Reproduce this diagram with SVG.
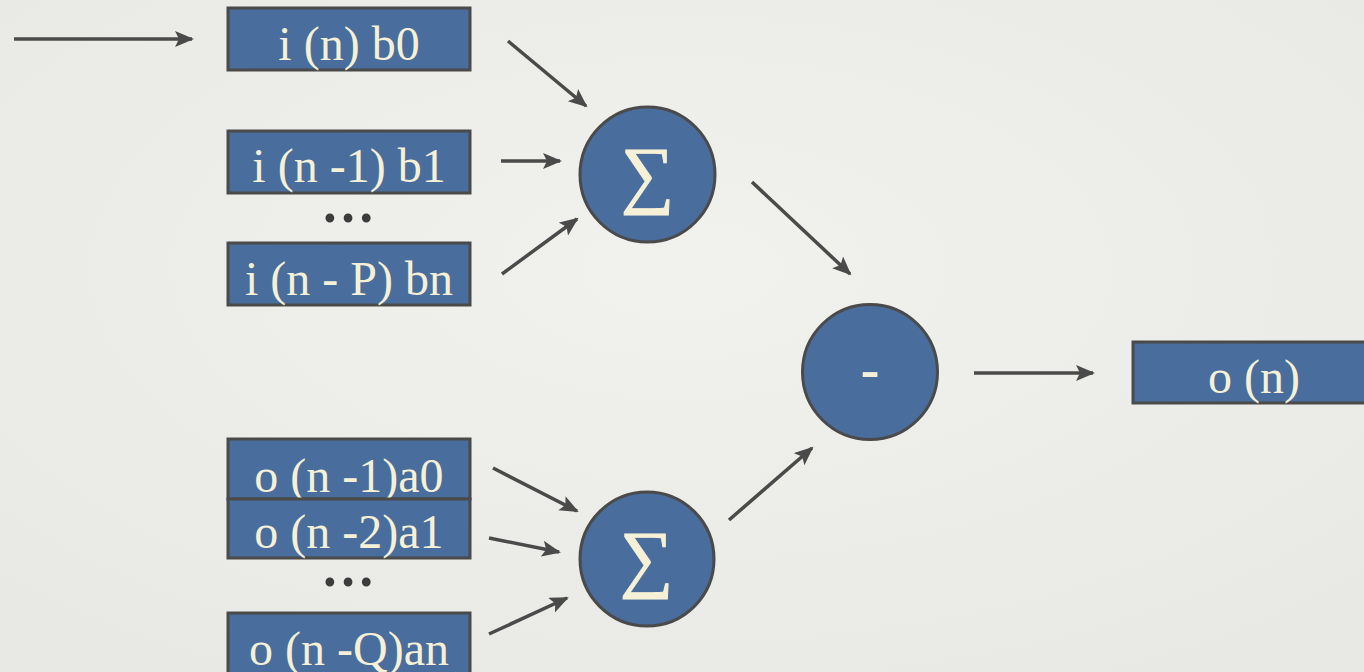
<svg xmlns="http://www.w3.org/2000/svg" width="1364" height="672" viewBox="0 0 1364 672">
<defs>
<style>
.box{fill:#496d9c;stroke:#4a4a4a;stroke-width:3}
.node{fill:#496d9c;stroke:#4a4a4a;stroke-width:3}
.lbl{font-family:"Liberation Serif",serif;font-size:48px;fill:#f6f1d6;text-anchor:middle}
.sig{font-family:"Liberation Serif",serif;font-size:75px;fill:#f6f1d6;stroke:#f6f1d6;stroke-width:1;text-anchor:middle}
.dots{font-family:"Liberation Serif",serif;font-size:54px;font-weight:bold;fill:#3c3c3c;text-anchor:middle}
.conn line{stroke:#4a4a4a;stroke-width:3.5;fill:none;marker-end:url(#ah)}
</style>
<marker id="ah" markerUnits="userSpaceOnUse" markerWidth="20" markerHeight="18" refX="17" refY="8" orient="auto">
<path d="M0,0 L19,8 L0,16 L4,8 Z" fill="#4a4a4a"/>
</marker>
<radialGradient id="bg" cx="0.5" cy="0.4" r="0.8">
<stop offset="0" stop-color="#f1f1ee"/>
<stop offset="1" stop-color="#e7e7e3"/>
</radialGradient>
</defs>
<rect x="0" y="0" width="1364" height="672" fill="url(#bg)"/>

<g id="in0"><rect class="box" x="228" y="8" width="242" height="62"/><text class="lbl" x="349" y="60">i (n) b0</text></g>
<g id="in1"><rect class="box" x="228" y="131" width="242" height="62"/><text class="lbl" x="349" y="182">i (n -1) b1</text></g>
<g id="dotsTop"><text class="dots" x="348" y="222">…</text></g>
<g id="inP"><rect class="box" x="228" y="243" width="242" height="62"/><text class="lbl" x="349" y="295">i (n - P) bn</text></g>

<g id="out1"><rect class="box" x="228" y="439" width="242" height="60"/><text class="lbl" x="349" y="492">o (n -1)a0</text></g>
<g id="out2"><rect class="box" x="228" y="499" width="242" height="59"/><text class="lbl" x="349" y="548">o (n -2)a1</text></g>
<g id="dotsBot"><text class="dots" x="348" y="586">…</text></g>
<g id="outQ"><rect class="box" x="228" y="613" width="242" height="62"/><text class="lbl" x="349" y="665">o (n -Q)an</text></g>

<g id="sumTop"><circle class="node" cx="647.5" cy="174.5" r="67.5"/><text class="sig" x="647.5" y="199">∑</text></g>
<g id="sumBot"><circle class="node" cx="647" cy="559" r="67"/><text class="sig" x="646.5" y="583">∑</text></g>
<g id="minus"><circle class="node" cx="870" cy="372" r="67.5"/><text class="sig" style="font-size:56px;font-weight:bold;stroke-width:0" x="870" y="388">-</text></g>
<g id="outN"><rect class="box" x="1133" y="342" width="242" height="61"/><text class="lbl" x="1254" y="393">o (n)</text></g>

<g class="conn" id="connectors">
<line x1="14" y1="39" x2="192" y2="39"/>
<line x1="508" y1="41" x2="586" y2="106"/>
<line x1="501" y1="161" x2="560" y2="161"/>
<line x1="502" y1="274" x2="577" y2="219"/>
<line x1="752" y1="182" x2="850" y2="274"/>
<line x1="493" y1="468" x2="577" y2="511"/>
<line x1="489" y1="538" x2="559" y2="552"/>
<line x1="489" y1="634" x2="567" y2="598"/>
<line x1="729" y1="520" x2="812" y2="448"/>
<line x1="974" y1="373" x2="1093" y2="373"/>
</g>
</svg>
